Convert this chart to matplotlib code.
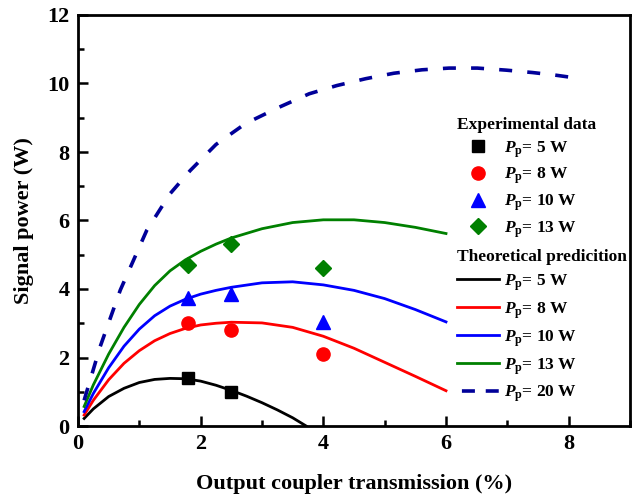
import matplotlib
matplotlib.use("Agg")
import matplotlib.pyplot as plt
from matplotlib.lines import Line2D
from matplotlib.ticker import MultipleLocator

plt.rcParams['font.family'] = ['Liberation Serif', 'DejaVu Serif']
plt.rcParams['font.weight'] = 'bold'
plt.rcParams['mathtext.fontset'] = 'custom'
plt.rcParams['mathtext.rm'] = 'Liberation Serif:bold'
plt.rcParams['mathtext.it'] = 'Liberation Serif:italic:bold'
plt.rcParams['mathtext.bf'] = 'Liberation Serif:bold'

# ---------------- data ----------------
exp_t = [1.8, 2.5, 4.0]
exp_5w = [1.4, 1.0]
exp_8w = [3.0, 2.8, 2.1]
exp_10w = [3.75, 3.85, 3.05]
exp_13w = [4.7, 5.3, 4.6]

th_t5 = [0.1, 0.25, 0.5, 0.75, 1.0, 1.25, 1.5, 1.75, 2.0, 2.25, 2.5, 2.75, 3.0, 3.25, 3.5, 3.72]
th_p5 = [0.22, 0.50, 0.86, 1.10, 1.27, 1.36, 1.39, 1.38, 1.31, 1.19, 1.04, 0.87, 0.68, 0.47, 0.24, 0.0]

th_t = [0.1, 0.25, 0.5, 0.75, 1.0, 1.25, 1.5, 1.75, 2.0, 2.25, 2.5, 3.0, 3.5, 4.0, 4.5, 5.0, 5.5, 6.0]
th_p8 = [0.32, 0.75, 1.35, 1.83, 2.20, 2.49, 2.70, 2.85, 2.95, 3.00, 3.03, 3.01, 2.88, 2.62, 2.27, 1.86, 1.45, 1.03]
th_p10 = [0.42, 0.95, 1.70, 2.33, 2.83, 3.22, 3.50, 3.70, 3.85, 3.96, 4.05, 4.18, 4.21, 4.12, 3.96, 3.72, 3.40, 3.04]
th_p13 = [0.57, 1.20, 2.10, 2.88, 3.55, 4.10, 4.53, 4.85, 5.10, 5.31, 5.49, 5.76, 5.94, 6.02, 6.02, 5.94, 5.80, 5.62]

th_t20 = [0.1, 0.36, 0.69, 1.12, 1.5, 1.83, 2.25, 2.73, 3.27, 3.77, 4.22, 4.69, 5.15, 5.61, 6.05, 6.51, 6.98, 7.41, 7.8, 8.0]
th_p20 = [0.75, 2.31, 3.97, 5.71, 6.78, 7.46, 8.22, 8.83, 9.30, 9.70, 9.94, 10.14, 10.30, 10.40, 10.45, 10.45, 10.39, 10.32, 10.24, 10.19]

labels = [r'$P_\mathrm{p}$= 5 W', r'$P_\mathrm{p}$= 8 W', r'$P_\mathrm{p}$= 10 W',
          r'$P_\mathrm{p}$= 13 W', r'$P_\mathrm{p}$= 20 W']

c_black, c_red, c_blue, c_green, c_navy = '#000000', '#FF0000', '#0000FF', '#008000', '#000099'

# ---------------- figure ----------------
fig = plt.figure(figsize=(6.44, 4.98), dpi=100)
ax = fig.add_axes([78/644, 72/498, 552/644, 411/498])

lw = 2.0
dash = (3.6, 4.2)
ax.plot(th_t5, th_p5, color=c_black, lw=lw)
ax.plot(th_t, th_p8, color=c_red, lw=lw)
ax.plot(th_t, th_p10, color=c_blue, lw=lw)
ax.plot(th_t, th_p13, color=c_green, lw=lw)
ax.plot(th_t20, th_p20, color=c_navy, lw=2.6, dashes=dash)

ax.plot(exp_t[:2], exp_5w, 's', color=c_black, ms=8.5, ls='none')
ax.plot(exp_t, exp_8w, 'o', color=c_red, ms=9.5, ls='none')
ax.plot(exp_t, exp_10w, '^', color=c_blue, ms=10, ls='none')
ax.plot(exp_t, exp_13w, 'D', color=c_green, ms=8.5, ls='none')

ax.set_xlim(0, 9)
ax.set_ylim(0, 12)
ax.xaxis.set_major_locator(MultipleLocator(2))
ax.xaxis.set_minor_locator(MultipleLocator(1))
ax.yaxis.set_major_locator(MultipleLocator(2))
ax.yaxis.set_minor_locator(MultipleLocator(1))
ax.tick_params(which='both', direction='in', top=False, right=False, width=1.8)
ax.tick_params(which='major', length=7, labelsize=16, pad=6)
ax.tick_params(which='minor', length=4)
for s in ax.spines.values():
    s.set_linewidth(2.0)
for lab in ax.get_xticklabels() + ax.get_yticklabels():
    lab.set_fontweight('bold')

ax.set_xlabel('Output coupler transmission (%)', fontsize=16, fontweight='bold', labelpad=14)
ax.set_ylabel('Signal power (W)', fontsize=16, fontweight='bold', labelpad=10)

# ---------------- legends ----------------
exp_handles = [
    Line2D([], [], marker='s', color=c_black, ms=8.5, ls='none'),
    Line2D([], [], marker='o', color=c_red, ms=9.5, ls='none'),
    Line2D([], [], marker='^', color=c_blue, ms=10, ls='none'),
    Line2D([], [], marker='D', color=c_green, ms=8.5, ls='none'),
]
th_handles = [
    Line2D([], [], color=c_black, lw=lw),
    Line2D([], [], color=c_red, lw=lw),
    Line2D([], [], color=c_blue, lw=lw),
    Line2D([], [], color=c_green, lw=lw),
    Line2D([], [], color=c_navy, lw=2.6, ls=(5.24, (3.6, 3.0))),
]
common = dict(frameon=False, fontsize=12.5, handlelength=2.4, handletextpad=0.3,
              borderpad=0, borderaxespad=0, alignment='left',
              title_fontproperties={'weight': 'bold', 'size': 12.5}, loc='upper left')
leg1 = fig.legend(exp_handles, labels[:4], title='Experimental data', labelspacing=0.35,
                  bbox_to_anchor=(457/644, 1 - 117/498), **common)
leg2 = fig.legend(th_handles, labels, title='Theoretical predicition', labelspacing=0.42,
                  bbox_to_anchor=(457/644, 1 - 249/498), **common)

fig.savefig('out.png', dpi=100)
